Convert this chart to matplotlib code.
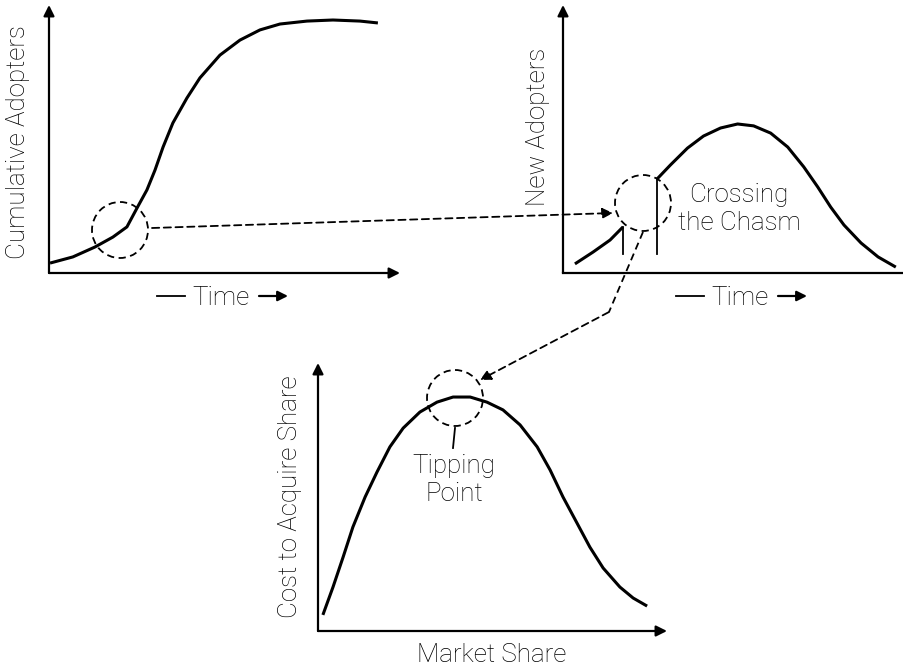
import matplotlib
matplotlib.use("Agg")
import matplotlib.pyplot as plt
from matplotlib.patches import Circle

plt.rcParams['font.family'] = ['Roboto', 'DejaVu Sans']
plt.rcParams['font.weight'] = 'light'

# panel 1: cumulative adopters (s-curve), x and y in 0..100
cum_time = [0.3, 6.8, 13.1, 18.2, 22.2, 25.1, 27.9, 30.2, 32.5, 35.3, 39.3, 43.0,
            48.7, 54.4, 60.1, 65.8, 73.5, 80.9, 88.6, 93.7]
cum_adopters = [3.7, 6.0, 9.7, 13.4, 17.2, 24.3, 31.0, 38.4, 47.0, 56.0, 65.3, 72.8,
                81.3, 86.9, 90.7, 92.9, 94.0, 94.4, 94.0, 93.3]

# panel 2: new adopters, split by the chasm
early_time = [3.5, 8.8, 13.8, 17.6]
early_new = [3.4, 7.8, 12.3, 17.2]
main_time = [27.6, 31.5, 36.5, 41.2, 46.2, 51.2, 55.9, 60.9, 65.9, 70.6, 74.7, 78.5,
             82.4, 87.4, 92.4, 97.6]
main_new = [35.1, 40.3, 46.6, 51.1, 54.1, 55.6, 54.9, 52.2, 47.0, 39.6, 32.1, 24.6,
            17.9, 11.2, 6.0, 2.2]
chasm_x = [17.6, 27.6]
chasm_top = [17.2, 35.1]
chasm_base = 7.1

# panel 3: cost to acquire share vs market share
share = [1.4, 4.3, 7.2, 10.0, 13.5, 16.9, 20.6, 24.4, 29.2, 34.1, 38.7, 43.6, 48.4,
         53.0, 57.9, 62.8, 66.5, 70.2, 74.2, 77.9, 81.7, 86.5, 90.3, 94.3]
cost = [6.0, 16.4, 27.6, 38.8, 50.0, 59.3, 68.7, 75.7, 81.7, 85.4, 87.3, 87.3, 85.4,
        82.5, 76.9, 68.7, 60.1, 50.0, 40.3, 31.3, 23.5, 16.4, 12.3, 9.3]

W, H = 904, 671
fig = plt.figure(figsize=(W / 100, H / 100), dpi=100)

axis_arrow = dict(arrowstyle='-|>', color='black', lw=1.6, mutation_scale=16,
                  shrinkA=0, shrinkB=0)
curve = dict(color='black', lw=2.2, solid_joinstyle='round', solid_capstyle='butt')


def panel(left, top, right, bottom, x_arrow=True):
    ax = fig.add_axes([left / W, 1 - bottom / H, (right - left) / W, (bottom - top) / H])
    ax.set_xlim(0, 100)
    ax.set_ylim(0, 100)
    ax.axis('off')
    ax.annotate('', xy=(0, 1), xytext=(0, 0), xycoords='axes fraction',
                arrowprops=axis_arrow)
    if x_arrow:
        ax.annotate('', xy=(1, 0), xytext=(0, 0), xycoords='axes fraction',
                    arrowprops=axis_arrow)
    else:
        ax.plot([0, 100], [0, 0], color='black', lw=1.6, clip_on=False)
    return ax


ax1 = panel(49, 5, 400, 273)
ax1.plot(cum_time, cum_adopters, **curve)

ax2 = panel(563, 5, 904, 273, x_arrow=False)
ax2.plot(early_time, early_new, **curve)
ax2.plot(main_time, main_new, **curve)
for x, top in zip(chasm_x, chasm_top):
    ax2.plot([x, x], [chasm_base, top], color='black', lw=1.3)

ax3 = panel(318, 363, 667, 631)
ax3.plot(share, cost, **curve)

# overlay in pixel coordinates for circles, connectors and labels
ov = fig.add_axes([0, 0, 1, 1])
ov.set_xlim(0, W)
ov.set_ylim(H, 0)
ov.axis('off')
ov.patch.set_visible(False)

dash = dict(color='black', lw=1.3, ls=(0, (4, 2.5)))
for cx, cy in [(120, 230), (643, 203), (455, 398)]:
    ov.add_patch(Circle((cx, cy), 28, fill=False, **dash))

conn_arrow = dict(arrowstyle='-|>', color='black', lw=1.3, ls=(0, (4, 2.5)),
                  mutation_scale=16, shrinkA=0, shrinkB=0)
ov.annotate('', xy=(613, 213), xytext=(152, 228), arrowprops=conn_arrow)
ov.plot([643, 609], [232, 312], **dash)
ov.annotate('', xy=(480, 380), xytext=(609, 312), arrowprops=conn_arrow)
ov.plot([455, 453], [428, 448], color='black', lw=1.3)

fs = 18.7


def time_label(x):
    # "— Time →" drawn as a dash, the word and a filled arrow
    ov.plot([x - 64, x - 36], [296, 296], color='black', lw=1.3)
    ov.text(x, 298, 'Time', ha='center', va='center', fontsize=fs)
    ov.annotate('', xy=(x + 67, 296), xytext=(x + 38, 296),
                arrowprops=dict(arrowstyle='-|>', color='black', lw=1.6,
                                mutation_scale=15, shrinkA=0, shrinkB=0))


time_label(221)
time_label(740)
ov.text(18, 142, 'Cumulative Adopters', rotation=90, ha='center', va='center', fontsize=fs)
ov.text(538, 127, 'New Adopters', rotation=90, ha='center', va='center', fontsize=fs)
ov.text(739, 209, 'Crossing\nthe Chasm', ha='center', va='center', fontsize=fs, linespacing=1.25)
ov.text(290, 497, 'Cost to Acquire Share', rotation=90, ha='center', va='center', fontsize=fs)
ov.text(492, 655, 'Market Share', ha='center', va='center', fontsize=fs)
ov.text(454, 480, 'Tipping\nPoint', ha='center', va='center', fontsize=fs, linespacing=1.25)

fig.savefig('out.png', dpi=100)
